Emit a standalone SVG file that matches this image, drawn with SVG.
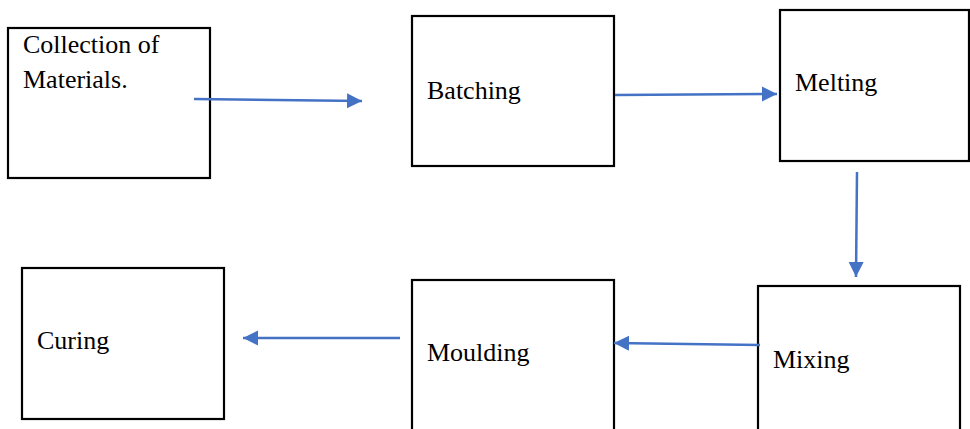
<svg xmlns="http://www.w3.org/2000/svg" width="970" height="429" viewBox="0 0 970 429">
<style>
.box{fill:#fff;stroke:#000;stroke-width:2.2}
.conn{stroke:#4472C4;stroke-width:2.5;fill:none}
text{font-family:"Liberation Serif","Times New Roman",serif;font-size:26px;fill:#000}
</style>
<defs>
<marker id="ah" markerUnits="userSpaceOnUse" markerWidth="16" markerHeight="16" refX="15" refY="8" orient="auto">
<path d="M0,0.5 L15,8 L0,15.5 Z" fill="#4472C4"/>
</marker>
</defs>
<rect width="970" height="429" fill="#fff"/>
<g id="collection">
<rect class="box" x="8" y="28" width="202" height="150"/>
<text x="23" y="53">Collection of</text>
<text x="23" y="88">Materials.</text>
</g>
<g id="batching">
<rect class="box" x="412" y="16" width="202" height="150"/>
<text x="427" y="99">Batching</text>
</g>
<g id="melting">
<rect class="box" x="780" y="10" width="189" height="151"/>
<text x="795" y="91">Melting</text>
</g>
<g id="mixing">
<rect class="box" x="758" y="286" width="202" height="160"/>
<text x="773" y="368">Mixing</text>
</g>
<g id="moulding">
<rect class="box" x="412" y="280" width="202" height="160"/>
<text x="427" y="361">Moulding</text>
</g>
<g id="curing">
<rect class="box" x="22" y="268" width="202" height="151"/>
<text x="37" y="349">Curing</text>
</g>
<g id="connectors">
<line class="conn" x1="194" y1="99" x2="362" y2="101" marker-end="url(#ah)"/>
<line class="conn" x1="615" y1="95" x2="777" y2="94" marker-end="url(#ah)"/>
<line class="conn" x1="857" y1="172" x2="856" y2="277" marker-end="url(#ah)"/>
<line class="conn" x1="760" y1="345" x2="614" y2="343" marker-end="url(#ah)"/>
<line class="conn" x1="400" y1="338" x2="243" y2="338" marker-end="url(#ah)"/>
</g>
</svg>
